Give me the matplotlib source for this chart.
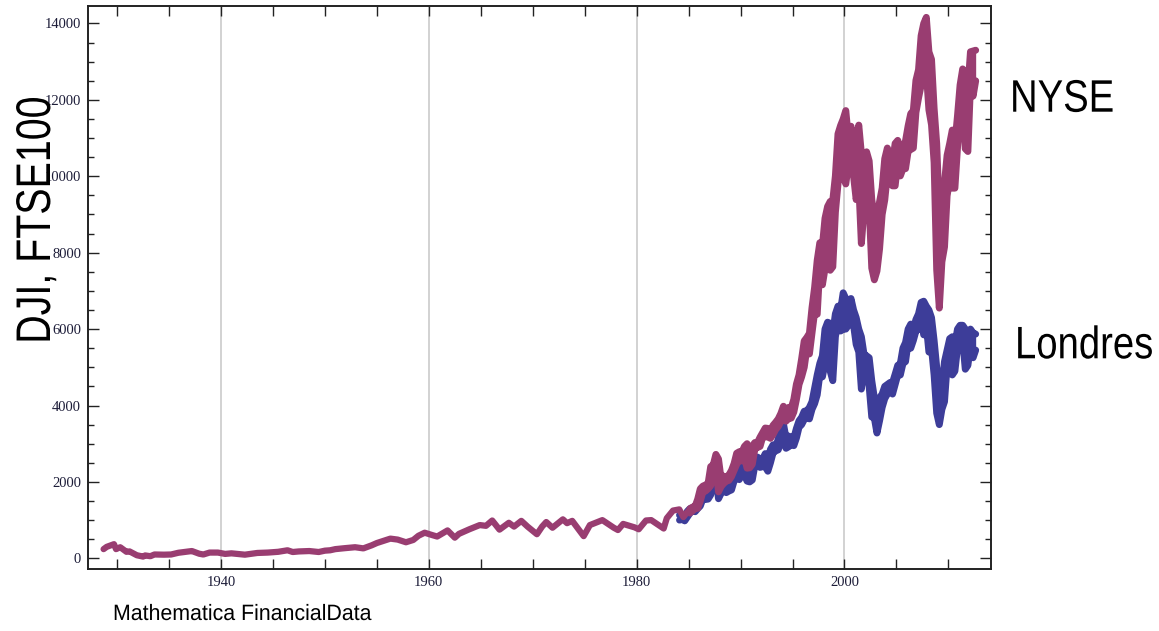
import numpy as np
import matplotlib
matplotlib.use("Agg")
import matplotlib.pyplot as plt
from matplotlib.ticker import MultipleLocator
from matplotlib.patheffects import AbstractPathEffect
from matplotlib.transforms import Affine2D

# ---------------------------------------------------------------- data
# Dow Jones Industrial Average, 1928-1984 (date in years, index level)
dji_early_t = [1928.7, 1929.0, 1929.7, 1929.9, 1930.3, 1930.9, 1931.2, 1931.9,
               1932.5, 1932.7, 1933.2, 1933.6, 1934.5, 1935.2, 1935.9, 1936.9,
               1937.2, 1937.9, 1938.3, 1938.9, 1939.7, 1940.4, 1941.0, 1942.3,
               1943.5, 1944.5, 1945.5, 1946.4, 1946.9, 1947.5, 1948.5, 1949.4,
               1950.0, 1950.5, 1951.0, 1951.9, 1952.9, 1953.7, 1954.5, 1955.0,
               1955.9, 1956.3, 1957.0, 1957.8, 1958.5, 1959.0, 1959.6, 1960.3,
               1960.8, 1961.8, 1962.5, 1962.9, 1963.9, 1964.9, 1965.5, 1966.1,
               1966.8, 1967.7, 1968.2, 1968.9, 1969.5, 1970.4, 1970.9, 1971.3,
               1971.9, 1972.9, 1973.3, 1973.8, 1974.9, 1975.5, 1976.7, 1977.8,
               1978.2, 1978.7, 1979.8, 1980.2, 1980.9, 1981.4, 1982.6, 1982.9,
               1983.5, 1984.1, 1984.5, 1984.9]
dji_early_v = [240, 300, 370, 240, 290, 170, 180, 80,
               45, 75, 55, 100, 95, 100, 145, 180,
               190, 120, 100, 150, 150, 115, 130, 95,
               140, 150, 170, 210, 165, 180, 190, 165,
               200, 210, 240, 265, 290, 260, 340, 400,
               480, 515, 490, 420, 480, 590, 670, 610,
               570, 730, 540, 640, 760, 870, 850, 990,
               750, 930, 830, 980, 830, 630, 830, 950,
               800, 1020, 920, 980, 580, 870, 1000, 800,
               740, 900, 810, 760, 990, 1000, 780, 1050,
               1250, 1280, 1080, 1220]

# Dow Jones, quarterly low / high from 1985 Q1 to 2012 Q3
dji_q_first = 1985
dji_lo = [1185, 1240, 1300, 1310,   1500, 1740, 1760, 1820,
          1900, 2230, 2400, 1740,   1880, 1960, 2020, 2040,
          2140, 2300, 2460, 2570,   2550, 2640, 2360, 2370,
          2460, 2860, 2900, 2930,   3170, 3180, 3180, 3140,
          3240, 3370, 3450, 3580,   3630, 3590, 3660, 3670,
          3830, 4160, 4550, 4750,   5000, 5480, 5350, 5900,
          6440, 6390, 7620, 7160,   7580, 8630, 7540, 7630,
          9060, 9800, 10300, 10000, 9800, 10300, 10500, 10000,
          9390, 9800, 8240, 9100,   9600, 9240, 7600, 7290,
          7520, 8100, 9000, 9380,   10050, 9900, 9750, 9750,
          10370, 10010, 10200, 10200, 10660, 10700, 10740, 11670,
          12050, 12380, 12850, 12740, 11740, 11350, 10360, 7550,
          6550, 7760, 8150, 9490,   9910, 9690, 9690, 10750,
          11670, 11900, 10720, 10650, 12400, 12100, 12500]
dji_hi = [1300, 1340, 1360, 1550,   1820, 1890, 1920, 1960,
          2400, 2450, 2720, 2600,   2080, 2150, 2130, 2180,
          2300, 2480, 2750, 2790,   2780, 2930, 3000, 2650,
          2940, 3030, 3030, 3170,   3290, 3410, 3400, 3330,
          3480, 3560, 3650, 3790,   3980, 3790, 3950, 3940,
          4160, 4560, 4800, 5220,   5690, 5780, 5890, 6560,
          7090, 7800, 8260, 8180,   8900, 9210, 9340, 9370,
          10010, 11110, 11330, 11500, 11720, 11000, 11310, 10990,
          10950, 11340, 10600, 10140, 10640, 10400, 9390, 8930,
          8850, 9330, 9690, 10460,  10740, 10570, 10370, 10860,
          10940, 10730, 10700, 10930, 11320, 11640, 11720, 12510,
          12790, 13680, 14000, 14160, 13260, 13060, 11780, 10850,
          9030, 8800, 9830, 10550,  10860, 11210, 10860, 11580,
          12390, 12810, 12720, 12290, 13260, 13280, 13300]

# FTSE 100, quarterly low / high from 1984 Q1 to 2012 Q3
ftse_q_first = 1984
ftse_lo = [1000, 1020, 980, 1080,   1180, 1250, 1220, 1300,
           1370, 1560, 1540, 1550,  1660, 1960, 2150, 1560,
           1700, 1770, 1720, 1760,  1790, 2020, 2170, 2060,
           2190, 2180, 2020, 2000,  2050, 2430, 2420, 2380,
           2400, 2400, 2280, 2500,  2760, 2810, 2840, 3050,
           3080, 2880, 2920, 2980,  2950, 3150, 3430, 3500,
           3630, 3700, 3650, 3900,  4050, 4280, 4800, 4750,
           5100, 5800, 4900, 4650,  5800, 6200, 5950, 6000,
           6000, 6100, 6200, 6100,  5600, 5400, 4430, 4900,
           5000, 4500, 3700, 3670,  3280, 3600, 3950, 4180,
           4300, 4400, 4300, 4550,  4800, 4800, 5100, 5150,
           5650, 5500, 5700, 5950,  6000, 6250, 5850, 6100,
           5400, 5500, 4800, 3800,  3500, 3900, 4100, 5050,
           5100, 4800, 4900, 5500,  5650, 5700, 4950, 5050,
           5550, 5250, 5450]
ftse_hi = [1130, 1120, 1100, 1230,  1300, 1320, 1340, 1420,
           1620, 1690, 1640, 1680,  2030, 2280, 2440, 2350,
           1850, 1870, 1860, 1880,  2080, 2160, 2430, 2350,
           2450, 2380, 2370, 2180,  2500, 2580, 2650, 2600,
           2600, 2740, 2560, 2850,  2970, 2920, 3120, 3420,
           3520, 3150, 3200, 3170,  3150, 3400, 3600, 3690,
           3850, 3860, 3950, 4100,  4450, 4800, 5100, 5300,
           6000, 6180, 6150, 5900,  6400, 6600, 6500, 6950,
           6800, 6550, 6800, 6500,  6300, 6000, 5800, 5350,
           5300, 5250, 4650, 4200,  4050, 4200, 4300, 4500,
           4550, 4600, 4600, 4820,  5050, 5100, 5500, 5650,
           6000, 6130, 6000, 6250,  6400, 6700, 6730, 6600,
           6500, 6300, 5700, 5000,  4600, 4500, 5150, 5450,
           5750, 5800, 5600, 6000,  6100, 6100, 6000, 5700,
           6000, 5900, 5870]

x_ticks = [1940, 1960, 1980, 2000]
y_ticks = [0, 2000, 4000, 6000, 8000, 10000, 12000, 14000]

# ---------------------------------------------------------------- style
BLUE = (0.24, 0.24, 0.60)
PURPLE = (0.60, 0.24, 0.4428)
TICK_COLOR = "#1c1c38"
LABEL_FAMILY = ["Liberation Sans", "DejaVu Sans"]

W, H, DPI = 1159, 631, 100
fig = plt.figure(figsize=(W / DPI, H / DPI), dpi=DPI)
ax = fig.add_axes([88 / W, 1 - 569 / H, (991 - 88) / W, (569 - 6) / H])


class Condense(AbstractPathEffect):
    """Draw the glyph outlines compressed about a fixed pixel anchor."""

    def __init__(self, sx=1.0, sy=1.0, anchor=(0.0, 0.0)):
        super().__init__()
        self.sx, self.sy, self.anchor = sx, sy, anchor

    def draw_path(self, renderer, gc, tpath, affine, rgbFace=None):
        ox, oy = self.anchor
        squeeze = (Affine2D().translate(-ox, -oy)
                   .scale(self.sx, self.sy).translate(ox, oy))
        renderer.draw_path(gc, tpath, affine + squeeze, rgbFace)


def quarter_mid(first, n):
    return first + (np.arange(n) + 0.5) / 4.0


def draw_band(t, lo, hi, color, z):
    lo = np.asarray(lo, float)
    hi = np.asarray(hi, float)
    ax.fill_between(t, lo, hi, color=color, lw=0, zorder=z)
    for edge in (lo, hi):
        ax.plot(t, edge, color=color, lw=5.0, solid_capstyle="round",
                solid_joinstyle="round", zorder=z)


# FTSE 100 underneath, Dow Jones on top
ftse_t = quarter_mid(ftse_q_first, len(ftse_lo))
draw_band(ftse_t, ftse_lo, ftse_hi, BLUE, 3)

dji_t = quarter_mid(dji_q_first, len(dji_lo))
early_t = list(dji_early_t) + [dji_t[0]]
early_v = list(dji_early_v) + [(dji_lo[0] + dji_hi[0]) / 2]
ax.plot(early_t, early_v, color=PURPLE, lw=4.5, solid_capstyle="round",
        solid_joinstyle="round", zorder=4)
draw_band(dji_t, dji_lo, dji_hi, PURPLE, 4)

# ---------------------------------------------------------------- axes
ax.set_xlim(1927.2, 2014.1)
ax.set_ylim(-280, 14458)

ax.xaxis.set_minor_locator(MultipleLocator(5))
ax.yaxis.set_minor_locator(MultipleLocator(500))
ax.set_xticks(x_ticks)
ax.set_xticklabels([str(v) for v in x_ticks])
ax.set_yticks(y_ticks)
ax.set_yticklabels([str(v) for v in y_ticks])

ax.tick_params(axis="x", which="both", length=7, width=1.0)
ax.tick_params(axis="y", which="major", length=8, width=1.0)
ax.tick_params(axis="y", which="minor", length=4.5, width=1.0)
ax.tick_params(which="both", direction="in", top=True, right=True,
               colors="#222222")
ax.tick_params(axis="both", which="major", pad=5, labelcolor=TICK_COLOR)

for lab in ax.get_xticklabels() + ax.get_yticklabels():
    lab.set_fontfamily("Liberation Serif")
    lab.set_fontsize(10.5)

for s in ax.spines.values():
    s.set_linewidth(1.4)
    s.set_color("#222222")

ax.grid(axis="x", which="major", color="#cfcfcf", lw=1.3, zorder=0)
ax.set_axisbelow(True)


# ---------------------------------------------------------------- labels
def label(px, py, text, size, sx=1.0, sy=1.0, **kw):
    anchor = (px, H - py)
    fig.text(px / W, 1 - py / H, text, family=LABEL_FAMILY, fontsize=size,
             color="black", path_effects=[Condense(sx, sy, anchor)], **kw)


label(50, 220, "DJI, FTSE100", 35, sy=0.81, rotation=90,
      rotation_mode="anchor", ha="center", va="baseline")
label(1010, 111.7, "NYSE", 32.8, sx=0.84, ha="left", va="baseline")
label(1015, 358.3, "Londres", 32.8, sx=0.84, ha="left", va="baseline")
label(113, 620, "Mathematica FinancialData", 16, sx=0.96,
      ha="left", va="baseline")

fig.savefig("out.png", dpi=DPI)
